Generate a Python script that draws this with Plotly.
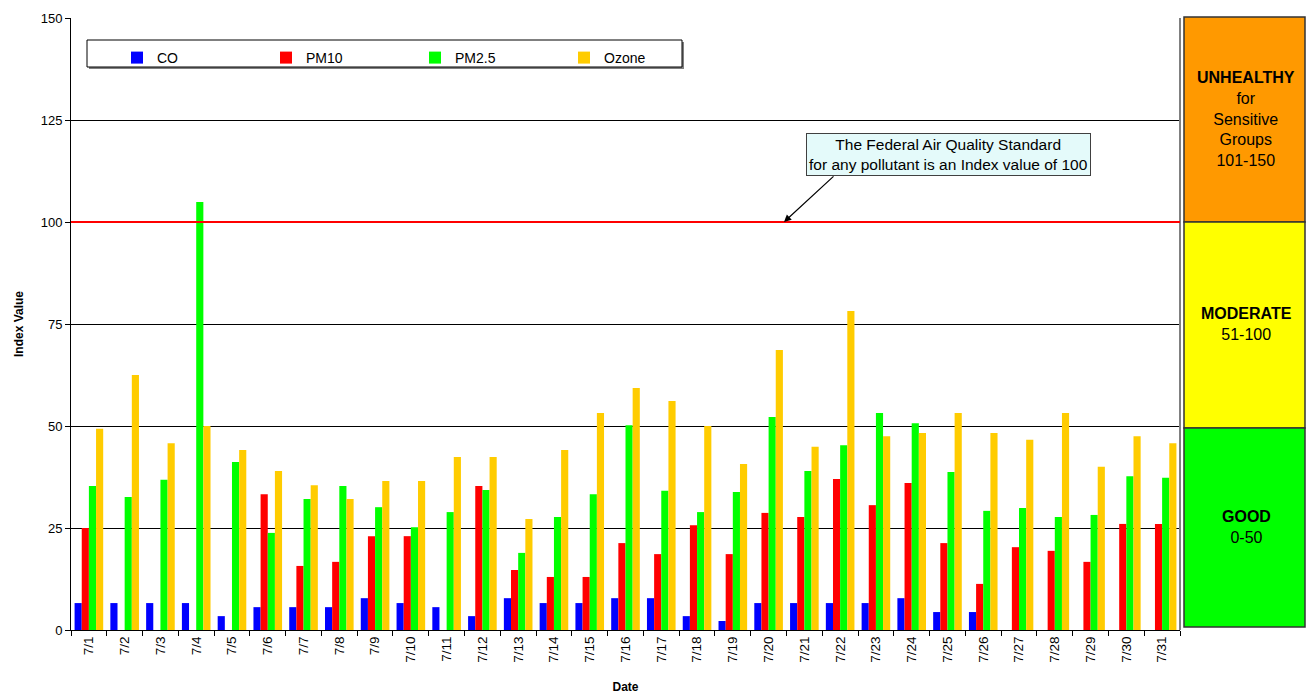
import plotly.graph_objects as go

dates = [f"7/{d}" for d in range(1, 32)]

co = [6.6, 6.6, 6.6, 6.6, 3.4, 5.6, 5.6, 5.6, 7.8, 6.6, 5.6, 3.4, 7.8, 6.6, 6.6, 7.8,
      7.8, 3.4, 2.2, 6.6, 6.6, 6.6, 6.6, 7.8, 4.4, 4.4, None, None, None, None, None]
pm10 = [25.0, None, None, None, None, 33.3, 15.7, 16.7, 23.0, 23.0, None, 35.3, 14.7, 13.0, 13.0, 21.3,
        18.6, 25.7, 18.6, 28.7, 27.7, 37.0, 30.6, 36.0, 21.3, 11.3, 20.3, 19.4, 16.7, 26.0, 26.0]
pm25 = [35.3, 32.6, 36.8, 104.9, 41.2, 23.8, 32.1, 35.3, 30.1, 25.2, 28.9, 34.3, 18.9, 27.7, 33.3, 50.2,
        34.1, 28.9, 33.8, 52.2, 39.0, 45.3, 53.2, 50.7, 38.7, 29.2, 29.9, 27.7, 28.2, 37.7, 37.3]
ozone = [49.3, 62.5, 45.8, 50.0, 44.1, 39.0, 35.5, 32.1, 36.5, 36.5, 42.4, 42.4, 27.2, 44.1, 53.2, 59.3,
         56.1, 50.0, 40.7, 68.6, 44.9, 78.2, 47.5, 48.3, 53.2, 48.3, 46.6, 53.2, 40.0, 47.5, 45.8]

series_names = ["CO", "PM10", "PM2.5", "Ozone"]
series_colors = ["#0000FF", "#FF0000", "#00FF00", "#FFCC00"]
y_ticks = [0, 25, 50, 75, 100, 125, 150]

W, H = 1310, 694
L, R, T, B = 71, 130, 18, 64
PW = W - L - R
PH = H - T - B


def px_x(p):
    return (p - L) / PW


def px_y(p):
    return (H - B - p) / PH


fig = go.Figure()
for name, vals, col in zip(series_names, [co, pm10, pm25, ozone], series_colors):
    fig.add_trace(go.Bar(x=dates, y=vals, name=name, marker=dict(color=col, line=dict(width=0))))

font = "Arial, Liberation Sans, sans-serif"

shapes = []
# right border of plot
shapes.append(dict(type="line", xref="paper", yref="paper", x0=1, x1=1, y0=0, y1=1,
                   line=dict(color="#808080", width=2)))
# standard line at 100
shapes.append(dict(type="line", xref="paper", yref="y", x0=0, x1=1, y0=100, y1=100,
                   line=dict(color="#FF0000", width=2)))
# legend box
shapes.append(dict(type="rect", xref="paper", yref="paper", x0=px_x(89), x1=px_x(684), y0=px_y(69), y1=px_y(42),
                   line=dict(width=0), fillcolor="#808080", layer="below"))
shapes.append(dict(type="rect", xref="paper", yref="paper", x0=px_x(87), x1=px_x(682), y0=px_y(67), y1=px_y(40),
                   line=dict(color="#000000", width=1), fillcolor="#FFFFFF", layer="below"))
# AQI panel
panel = [(17, 222, "#FF9900"), (222, 428, "#FFFF00"), (428, 627, "#00FF00")]
for top, bot, col in panel:
    shapes.append(dict(type="rect", xref="paper", yref="paper", x0=px_x(1184), x1=px_x(1305),
                       y0=px_y(bot), y1=px_y(top), fillcolor=col, line=dict(color="#333333", width=1.5)))

annotations = []
cx = px_x(1246)
panel_texts = [
    (119, "<b>UNHEALTHY</b><br>for<br>Sensitive<br>Groups<br>101-150"),
    (324, "<b>MODERATE</b><br>51-100"),
    (527, "<b>GOOD</b><br>0-50"),
]
for yc, txt in panel_texts:
    annotations.append(dict(xref="paper", yref="paper", x=cx, y=px_y(yc), xanchor="center", yanchor="middle",
                            text=txt, showarrow=False,
                            font=dict(family=font, size=16, color="#000000"), align="center"))

# callout box
annotations.append(dict(xref="paper", yref="paper", x=px_x(948), y=px_y(154), xanchor="center", yanchor="middle",
                        text="The Federal Air Quality Standard<br>for any pollutant is an Index value of 100",
                        showarrow=False, font=dict(family=font, size=15.5, color="#000000"),
                        bgcolor="#E4FAFA", bordercolor="#404040", borderwidth=1, borderpad=2, align="center"))
# arrow
annotations.append(dict(xref="paper", yref="y", x=px_x(784), y=100, text="", showarrow=True,
                        axref="pixel", ayref="pixel", ax=51, ay=-47,
                        arrowhead=2, arrowsize=1.2, arrowwidth=1.2, arrowcolor="#000000"))

fig.update_layout(
    width=W, height=H,
    margin=dict(l=L, r=R, t=T, b=B, autoexpand=False),
    plot_bgcolor="#FFFFFF", paper_bgcolor="#FFFFFF",
    barmode="group", bargap=0.2, bargroupgap=0,
    font=dict(family=font, size=13, color="#000000"),
    showlegend=True,
    legend=dict(orientation="h", x=px_x(117), y=px_y(42), xanchor="left", yanchor="top",
                bgcolor="rgba(0,0,0,0)", borderwidth=0, entrywidth=104, entrywidthmode="pixels",
                itemwidth=30, font=dict(family=font, size=14, color="#000000"), tracegroupgap=0),
    xaxis=dict(
        type="category", tickangle=-90, showline=True, linecolor="#000000", linewidth=1,
        ticks="outside", tickson="boundaries", ticklen=5, tickcolor="#000000", automargin=False,
        showgrid=False, tickfont=dict(family=font, size=13.5),
        title=dict(text="<b>Date</b>", font=dict(family=font, size=12), standoff=22),
    ),
    yaxis=dict(
        range=[0, 150], tickvals=y_ticks, showline=True, linecolor="#000000", linewidth=1,
        ticks="outside", ticklen=5, tickcolor="#000000", showgrid=True, gridcolor="#000000",
        gridwidth=1, zeroline=False, tickfont=dict(family=font, size=13), automargin=False,
        title=dict(text="<b>Index Value</b>", font=dict(family=font, size=12), standoff=14),
    ),
    shapes=shapes,
    annotations=annotations,
)

fig.write_html("out.html", config={"displayModeBar": False},
               post_script="document.body.style.margin='0';")
